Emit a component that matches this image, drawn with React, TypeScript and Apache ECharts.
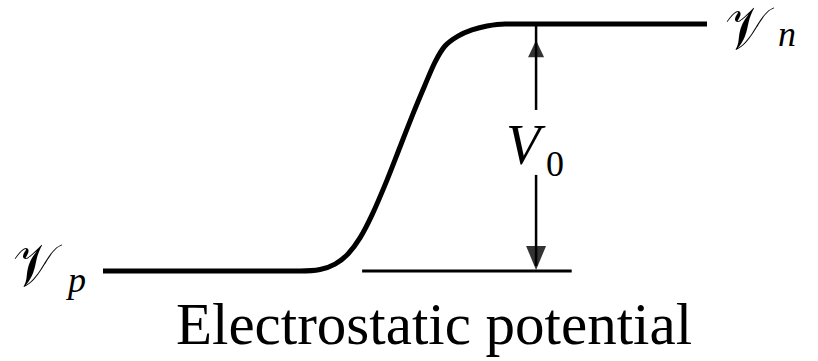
import { useEffect, useRef } from "react";
import * as echarts from "echarts";

// Position across the p–n junction (arbitrary units, p side on the left)
const position = [
  0, 32.6, 35.93, 38.41, 40.56, 42.55, 44.54, 47.02, 49.17, 51.32, 53.31, 54.97, 56.62, 58.77, 61.09, 63.58,
  66.56, 100,
];
// Electrostatic potential, normalised so that 0 = 𝒱p and 1 = 𝒱n
const potential = [
  0, 0, 0.006, 0.028, 0.069, 0.134, 0.227, 0.368, 0.502, 0.636, 0.753, 0.846, 0.911, 0.951, 0.976, 0.992, 1,
  1,
];

// Reference level drawn under the n side (extent along the position axis)
const refLineFrom = 42.9;
const refLineTo = 77.6;

// Contact potential V0 = 𝒱n − 𝒱p, marked by a double arrow at this position
const v0Position = 71.7;
const vP = 0;
const vN = 1;

const SERIF = "'Liberation Serif', 'DejaVu Serif', serif";

export default function App() {
  const ref = useRef<HTMLDivElement>(null);

  useEffect(() => {
    if (!ref.current) return;
    const chart = echarts.init(ref.current, undefined, { renderer: "svg" });

    const curve = position.map((x, i) => [x, potential[i]]);

    const scriptV = (x: number, y: number) => ({
      type: "text",
      x,
      y,
      scaleX: 0.85,
      style: {
        text: "𝒱",
        font: `60px 'DejaVu Sans', 'DejaVu Serif', serif`,
        lineHeight: 40,
        verticalAlign: "middle",
        fill: "#000",
      },
    });

    chart.setOption({
      animation: false,
      backgroundColor: "#ffffff",
      grid: { left: 103, right: 111, top: 24, bottom: 90 },
      xAxis: { type: "value", min: 0, max: 100, show: false },
      yAxis: { type: "value", min: 0, max: 1, show: false },
      series: [
        {
          type: "line",
          data: curve,
          smooth: 0.3,
          showSymbol: false,
          clip: false,
          lineStyle: { color: "#000", width: 5 },
        },
        {
          type: "line",
          data: [
            [refLineFrom, vP],
            [refLineTo, vP],
          ],
          showSymbol: false,
          clip: false,
          lineStyle: { color: "#000", width: 3 },
        },
        {
          type: "line",
          data: [
            [v0Position, vN],
            [v0Position, 0.652],
          ],
          showSymbol: false,
          clip: false,
          lineStyle: { color: "#000", width: 2.5 },
        },
        {
          type: "line",
          data: [
            [v0Position, 0.389],
            [v0Position, vP + 0.02],
          ],
          showSymbol: false,
          clip: false,
          lineStyle: { color: "#000", width: 2.5 },
        },
        {
          type: "scatter",
          clip: false,
          itemStyle: { color: "#000" },
          data: [
            { value: [v0Position, 0.9], symbol: "triangle", symbolSize: [16, 17], symbolRotate: 0 },
            { value: [v0Position, 0.053], symbol: "triangle", symbolSize: [20, 24], symbolRotate: 180 },
          ],
        },
      ],
      graphic: [
        scriptV(13, 265),
        {
          type: "text",
          left: 68,
          top: 262,
          style: { text: "p", font: `italic 36px ${SERIF}`, fill: "#000" },
        },
        scriptV(725, 28),
        {
          type: "text",
          left: 778,
          top: 16,
          style: { text: "n", font: `italic 36px ${SERIF}`, fill: "#000" },
        },
        {
          type: "text",
          left: 506,
          top: 117,
          style: { text: "V", font: `italic 56px ${SERIF}`, fill: "#000" },
        },
        {
          type: "text",
          left: 546,
          top: 146,
          style: { text: "0", font: `36px ${SERIF}`, fill: "#000" },
        },
        {
          type: "text",
          left: 176,
          top: 294,
          style: { text: "Electrostatic potential", font: `59px ${SERIF}`, fill: "#000" },
        },
      ],
    });

    return () => chart.dispose();
  }, []);

  return (
    <div
      ref={ref}
      style={{ position: "absolute", left: 0, top: 0, width: 818, height: 361 }}
    />
  );
}
